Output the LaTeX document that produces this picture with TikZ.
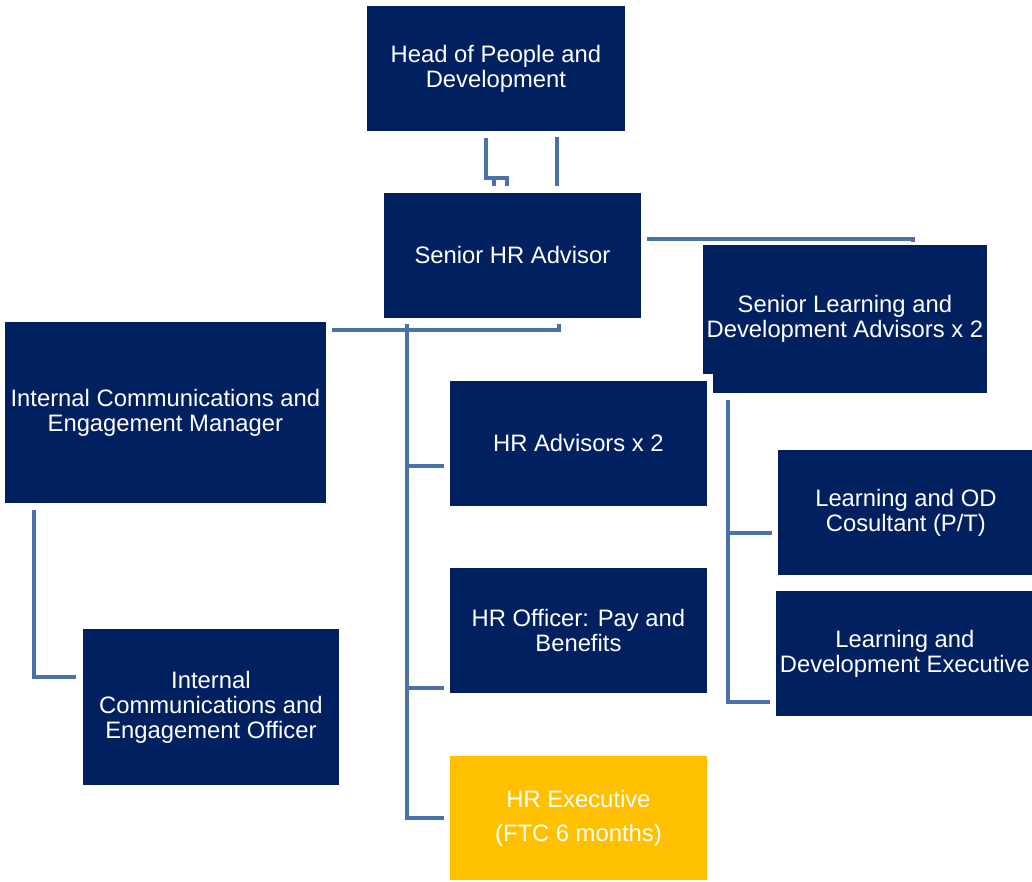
\documentclass[tikz,border=0pt]{standalone}
\usepackage{fontspec}
\setmainfont{Liberation Sans}
\definecolor{navy}{RGB}{0,32,96}
\definecolor{gold}{RGB}{255,192,0}
\definecolor{conn}{RGB}{72,114,168}
\begin{document}
\begin{tikzpicture}[x=1pt,y=-1pt,
  box/.style={fill=navy,draw=white,line width=0.8pt,text=white,align=center,inner sep=0pt,anchor=north west,font=\fontsize{23.8}{25}\selectfont},
  link/.style={draw=conn,line width=4pt}]
\useasboundingbox[fill=white] (0,0) rectangle (1032,882);
% boxes
\node[box,minimum width=259pt,minimum height=126pt] (head) at (366,5) {Head of People and\\Development};
\node[box,minimum width=258pt,minimum height=126pt] (shr) at (383,192) {Senior HR Advisor};
\node[box,minimum width=285pt,minimum height=149pt] (sld) at (702,244) {Senior Learning and\\Development Advisors x 2};
\node[box,minimum width=322pt,minimum height=182pt] (icm) at (4,321) {Internal Communications and\\Engagement Manager};
\fill[white] (443,374) rectangle (713,512);
\node[box,minimum width=258pt,minimum height=126pt] (hra) at (449,380) {HR Advisors x 2};
\node[box,minimum width=258pt,minimum height=126pt] (hro) at (449,567) {HR Officer: Pay and\\Benefits};
\node[box,fill=gold,minimum width=258pt,minimum height=125pt] (hre) at (449,755) {HR Executive\\[9pt](FTC 6 months)};
\node[box,minimum width=257pt,minimum height=126pt] (lod) at (777,449) {Learning and OD\\Cosultant (P/T)};
\node[box,minimum width=259pt,minimum height=126pt] (lde) at (775,590) {Learning and\\Development Executive};
\node[box,minimum width=257pt,minimum height=157pt] (ico) at (82,628) {Internal\\Communications and\\Engagement Officer};
% connector points
\coordinate (a1) at (486,138); \coordinate (a2) at (486,178); \coordinate (a3) at (507,178); \coordinate (a4) at (507,186);
\coordinate (a5) at (494,178); \coordinate (a6) at (494,186);
\coordinate (b1) at (557,137); \coordinate (b2) at (557,186);
\coordinate (c1) at (647,239); \coordinate (c2) at (913,239); \coordinate (c3) at (913,242);
\coordinate (d1) at (332,330); \coordinate (d2) at (559,330); \coordinate (d3) at (559,324);
\coordinate (t1) at (407,324); \coordinate (t2) at (407,818);
\coordinate (e1) at (407,466); \coordinate (e2) at (444,466);
\coordinate (f1) at (407,688); \coordinate (f2) at (444,688);
\coordinate (g2) at (444,818);
\coordinate (l1) at (728,400); \coordinate (l2) at (728,702); \coordinate (l3) at (770,702);
\coordinate (m1) at (728,533); \coordinate (m2) at (772,533);
\coordinate (i1) at (34,510); \coordinate (i2) at (34,677); \coordinate (i3) at (76,677);
% connectors
\draw[link] (a1) -- (a2) -- (a3) -- (a4);
\draw[link] (a5) -- (a6);
\draw[link] (b1) -- (b2);
\draw[link] (c1) -- (c2) -- (c3);
\draw[link] (d1) -- (d2) -- (d3);
\draw[link] (t1) -- (t2) -- (g2);
\draw[link] (e1) -- (e2);
\draw[link] (f1) -- (f2);
\draw[link] (l1) -- (l2) -- (l3);
\draw[link] (m1) -- (m2);
\draw[link] (i1) -- (i2) -- (i3);
\end{tikzpicture}
\end{document}
